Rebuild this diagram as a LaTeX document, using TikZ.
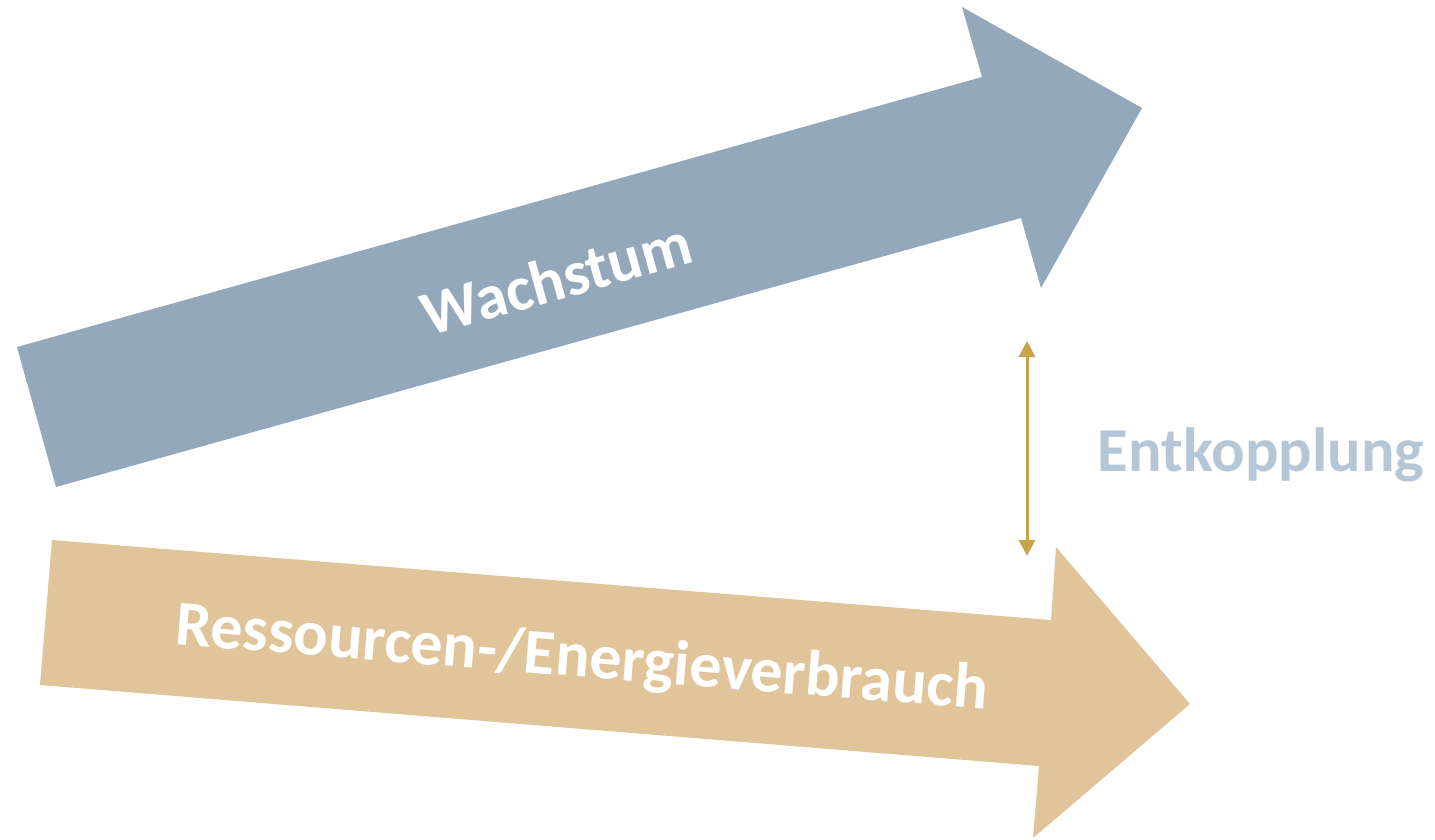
\documentclass[tikz,border=0pt]{standalone}
\usepackage{fontspec}
\setmainfont{Carlito}
\usetikzlibrary{arrows.meta}
\definecolor{growth}{HTML}{93A8BA}
\definecolor{resource}{HTML}{E0C59A}
\definecolor{gold}{HTML}{C9A34A}
\definecolor{lightblue}{HTML}{B5C7D6}
\tikzset{
  bigarrow/.style={draw=none},
  arrowlabel/.style={text=white, font=\fontsize{63}{63}\selectfont\bfseries, inner sep=0pt},
  sidelabel/.style={text=lightblue, font=\fontsize{62.5}{62.5}\selectfont\bfseries, inner sep=0pt},
  decouple/.style={gold, line width=3pt, {Triangle[length=16pt,width=16pt]}-{Triangle[length=16pt,width=16pt]}}
}
\begin{document}
\begin{tikzpicture}[x=1pt,y=-1pt]
\useasboundingbox (0,0) rectangle (1435,839);
% growth arrow
\fill[growth, bigarrow] (56,487) -- (17,347) -- (982,77) -- (962,7) -- (1142,108) -- (1041,288) -- (1021,218) -- cycle;
% resource arrow
\fill[resource, bigarrow] (52,540) -- (1051,620) -- (1056,547) -- (1190,704) -- (1033,838) -- (1039,766) -- (40,685) -- cycle;
\node[arrowlabel, rotate=15.6] (wachstum) at (556,278) {Wachstum};
\node[arrowlabel, font=\fontsize{64}{64}\selectfont\bfseries, rotate=-4.6] (ressourcen) at (582,660) {Ressourcen-/Energieverbrauch};
\coordinate (top) at (1027,341);
\coordinate (bottom) at (1027,556);
\draw[decouple] (top) -- (bottom);
\node[sidelabel] (entkopplung) at (1261,455) {Entkopplung};
\end{tikzpicture}
\end{document}
